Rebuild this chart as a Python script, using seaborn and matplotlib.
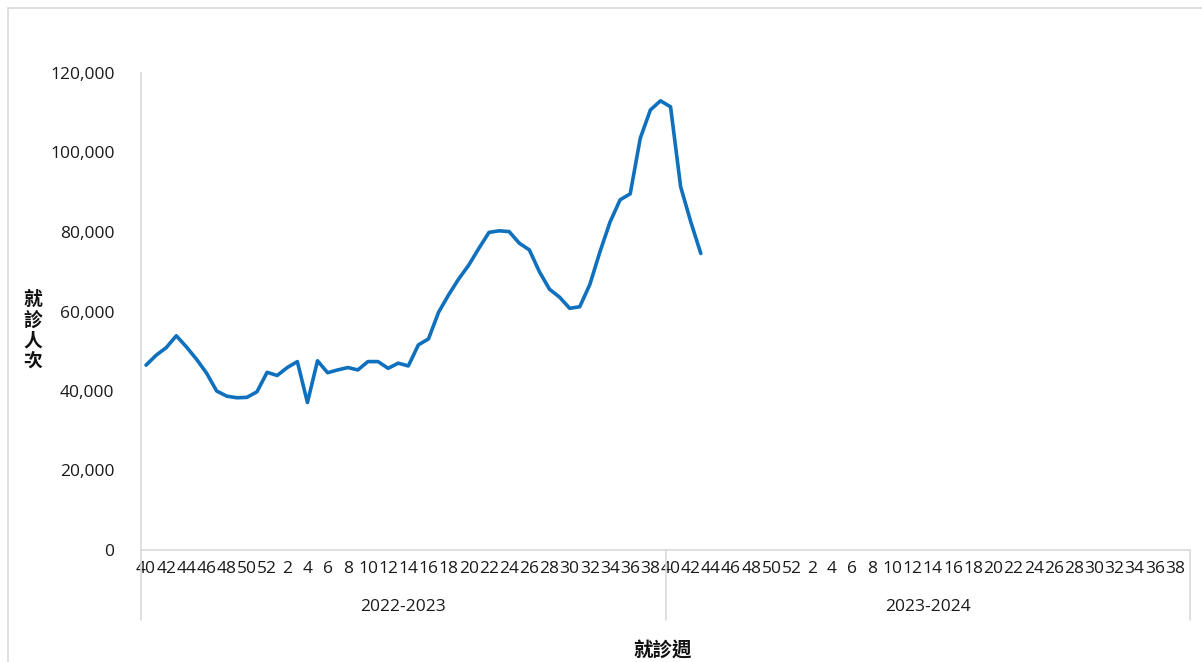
import matplotlib
matplotlib.use("Agg")
import matplotlib.pyplot as plt
import matplotlib.patches as mpatches
from matplotlib.lines import Line2D
import numpy as np
import pandas as pd
import seaborn as sns

# ——— data ———
seasons = ["2022-2023", "2023-2024"]
season_weeks = list(range(40, 53)) + list(range(1, 40))   # 52 weeks per season
visits = [
    46500, 49000, 50900, 53900, 51100, 48000, 44500, 40000, 38700, 38300,
    38400, 39800, 44700, 43900, 45900, 47400, 37100, 47600, 44600, 45300,
    45900, 45300, 47400, 47400, 45700, 47000, 46300, 51600, 53100, 59800,
    64200, 68200, 71700, 75900, 79900, 80300, 80100, 77200, 75500, 70000,
    65600, 63600, 60800, 61200, 66800, 75000, 82500, 88100, 89600, 103600,
    110700, 113000, 111500, 91400, 82600, 74600,
]

sns.set_style("white")
plt.rcParams["font.family"] = ["Open Sans", "Noto Sans CJK TC", "DejaVu Sans"]
cjk = ["Noto Sans CJK TC", "DejaVu Sans"]
tick_fs = 12.5

n_cat = len(season_weeks) * len(seasons)
df = pd.DataFrame({"idx": np.arange(len(visits)), "visits": visits})

fig = plt.figure(figsize=(12.02, 6.62), dpi=100)
ax = fig.add_axes([141 / 1202, 1 - 550 / 662, (1190 - 141) / 1202, (550 - 73) / 662])

sns.lineplot(data=df, x="idx", y="visits", ax=ax, color="#0F70BE", linewidth=2.6)

ax.set_xlim(-0.5, n_cat - 0.5)
ax.set_ylim(0, 120000)
ax.set_yticks(np.arange(0, 120001, 20000))
ax.set_yticklabels([f"{v:,}" for v in range(0, 120001, 20000)], fontsize=tick_fs, color="#1a1a1a")

all_weeks = season_weeks * len(seasons)
xt = np.arange(0, n_cat, 2)
ax.set_xticks(xt)
ax.set_xticklabels([str(all_weeks[i]) for i in xt], fontsize=tick_fs, color="#1a1a1a")
ax.tick_params(axis="both", length=0, pad=8)
ax.tick_params(axis="y", pad=19)

for s in ["top", "right"]:
    ax.spines[s].set_visible(False)
for s in ["left", "bottom"]:
    ax.spines[s].set_color("#d9d9d9")
    ax.spines[s].set_linewidth(1.2)

ax.set_xlabel("")
ax.set_ylabel("")

# category group separators and season labels
sep_depth = 70 / 477
for k in range(len(seasons) + 1):
    x = k * len(season_weeks) - 0.5
    ax.add_line(Line2D([x, x], [0, -sep_depth], transform=ax.get_xaxis_transform(),
                       color="#d9d9d9", lw=1.2, clip_on=False))
for k, name in enumerate(seasons):
    xc = k * len(season_weeks) + len(season_weeks) / 2 - 0.5
    ax.text(xc, -57 / 477, name, transform=ax.get_xaxis_transform(),
            ha="center", va="center", fontsize=tick_fs, color="#1a1a1a")

fig.text(663 / 1202, 1 - 650 / 662, "就診週", ha="center", va="center",
         fontsize=14, fontweight="bold", color="#111111", family=cjk)
fig.text(33 / 1202, 1 - 331 / 662, "就\n診\n人\n次", ha="center", va="center",
         fontsize=13.5, fontweight="bold", color="#111111", linespacing=1.12, family=cjk)

fig.patches.append(mpatches.Rectangle((8 / 1202, -0.05), 1.1, 1 - 8 / 662 + 0.05,
                                      transform=fig.transFigure, fill=False,
                                      edgecolor="#d9d9d9", lw=1.2))

fig.savefig("out.png", dpi=100)
